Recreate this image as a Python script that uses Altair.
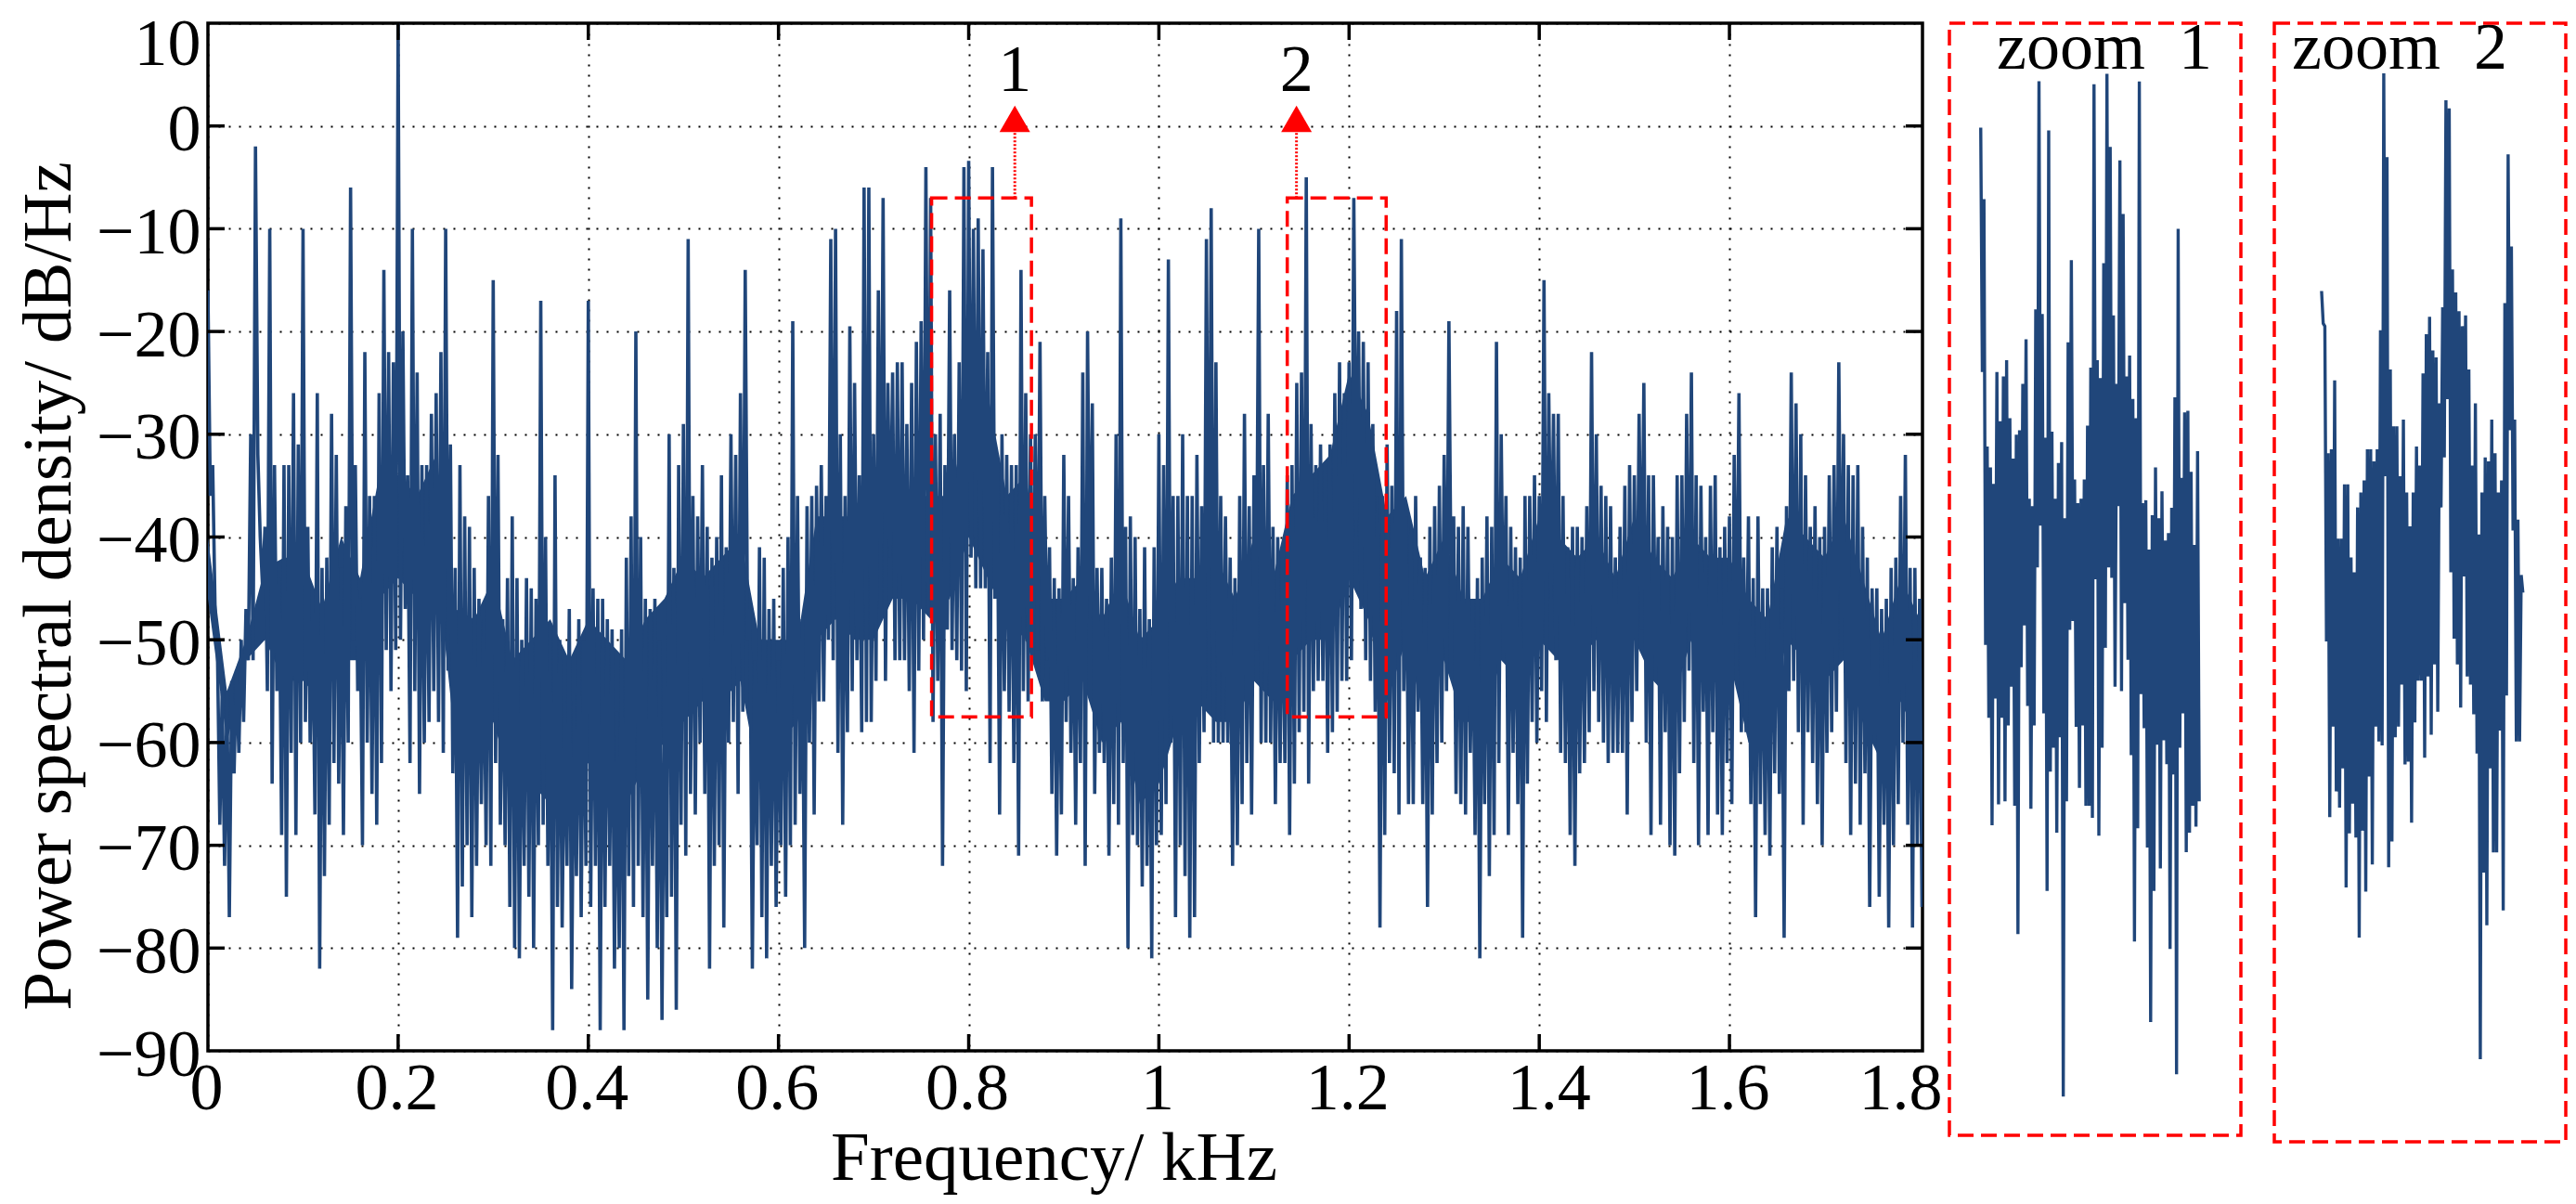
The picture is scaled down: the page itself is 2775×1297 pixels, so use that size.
import altair as alt
import pandas as pd

FONT = "Liberation Serif"
BLUE = "#20467A"
RED = "#FF0000"

upper = [
 -16,-33,-51,-55,-55,-54,-53,-50,-47,-30,-2,-40,-39,-10,-33,-44,-33,-33,-26,-31,
 -10,-39,-46,-26,-43,-42,-28,-32,-43,-37,-6,-33,-46,-22,-36,-36,-26,-14,-22,-23,
 10,-20,-34,-10,-24,-33,-33,-28,-26,-22,-10,-31,-43,-33,-38,-39,-43,-46,-48,-36,
 -15,-32,-48,-44,-38,-44,-50,-44,-45,-46,-17,-40,-49,-34,-50,-56,-47,-56,-48,-50,
 -17,-45,-46,-46,-48,-49,-57,-49,-42,-38,-20,-40,-46,-47,-46,-50,-53,-30,-43,-33,
 -29,-11,-36,-38,-33,-39,-42,-40,-34,-41,-30,-32,-26,-14,-47,-52,-41,-42,-47,-46,
 -52,-43,-40,-19,-36,-48,-37,-36,-35,-33,-36,-11,-10,
 -30,-36,-19.5,-25,-34,-6,-6,-30,-16,-7,-25,-24,-23,-23,-29,-25,-21,-19,-4,-7,
 -30,-28,-33,-16,-30,-23,-4,-3.4,-10,-9,-12,-22,-4,-32,-30,-32,-33,-33,-14,-26,
 -30,-30,-21,-36,-41,-44,-45,-32,-36,-44,-41,-24,-20,-27,-43,-43,-46,-42,-30,-9,
 -39,-38,-40,-47,-41,-48,-41,-30,-33,-13,-36,-36,-30,-36,-36,-32,-37,-11,-8,-23,
 -36,-38,-42,-44,-36,-28,-37,-34,-10,-33,-28,-39,-40,-42,-34,-33,-25,-24,-5,-29,
 -33,-31,-33,-31,-26,-23,-26,-23,-7,-20,-21,-23,-29,-36,-36,-31,-35,-18,-11,-38,
 -39,-36,-42,-43,-39,-37,-35,-32,-19,-38,-39,-37,-39,-46,-44,-42,-38,-39,-21,-30,
 -36,-39,-41,-42,-36,-36,-34,-36,-15,-26,-28,-28,-36,-41,-39,-39,-40,-37,-22,-30,
 -35,-36,-37,-42,-39,-35,-33,-34,-28,-25,-34,-34,-40,-37,-39,-40,-34,-34,-28,-24,
 -34,-35,-40,-35,-34,-41,-39,-38,-32,-26,-42,-38,-44,-38,-45,-45,-41,-39,-45,-37,
 -24,-27,-30,-34,-39,-37,-40,-39,-34,-33,-23,-30,-33,-34,-33,-39,-42,-45,-45,-47,
 -46,-43,-42,-36,-32,-43,-43,-46,
]
lower = [
 -36,-47,-68,-72,-77,-63,-61,-58,-52,-52,-32,-45,-55,-64,-55,-69,-75,-61,-69,-60,
 -58,-60,-67,-82,-73,-68,-62,-64,-69,-60,-50,-55,-70,-60,-65,-68,-62,-51,-55,-51,
 -50,-47,-62,-55,-65,-60,-58,-55,-58,-61,-53,-63,-79,-74,-70,-77,-72,-66,-70,-72,
 -62,-68,-70,-76,-80,-81,-72,-75,-80,-70,-68,-72,-88,-76,-78,-72,-84,-73,-77,-72,
 -76,-72,-88,-76,-72,-82,-80,-88,-73,-76,-72,-77,-85,-72,-80,-87,-77,-75,-86,-68,
 -71,-65,-67,-60,-65,-82,-72,-70,-78,-60,-58,-65,-57,-50,-82,-70,-77,-81,-72,-76,
 -70,-75,-70,-68,-65,-80,-60,-67,-56,-56,-50,-52,-61,
 -68,-59,-55,-52,-59,-58,-58,-54,-47,-54,-42,-52,-52,-52,-55,-61,-53,-50,-47,-58,
 -54,-72,-49,-51,-52,-53,-55,-42,-45,-45,-45,-62,-46,-67,-55,-57,-62,-71,-55,-56,
 -52,-51,-56,-52,-65,-71,-67,-58,-61,-68,-62,-72,-48,-65,-61,-62,-71,-66,-68,-62,
 -80,-69,-70,-74,-72,-81,-70,-69,-66,-60,-77,-70,-73,-79,-77,-62,-59,-55,-60,-60,
 -60,-60,-72,-70,-66,-62,-67,-51,-60,-60,-60,-66,-62,-62,-69,-64,-59,-57,-64,-55,
 -54,-54,-61,-59,-57,-54,-54,-52,-40,-47,-52,-54,-57,-78,-69,-62,-63,-67,-55,-66,
 -66,-57,-66,-76,-67,-62,-60,-55,-48,-65,-66,-67,-61,-69,-81,-66,-73,-69,-62,-52,
 -69,-61,-66,-79,-64,-58,-60,-55,-58,-46,-52,-61,-62,-69,-72,-63,-62,-59,-55,-58,
 -60,-62,-61,-61,-61,-67,-58,-55,-49,-60,-69,-53,-68,-59,-70,-71,-63,-58,-53,-62,
 -70,-57,-69,-59,-67,-69,-62,-66,-53,-59,-59,-66,-77,-66,-69,-71,-63,-65,-79,-55,
 -54,-59,-68,-59,-62,-66,-70,-61,-59,-57,-51,-62,-69,-64,-68,-63,-76,-60,-75,-68,
 -78,-70,-66,-60,-68,-78,-70,-76,
]
# solid core of the trace, one pair per 0.02 kHz
core_top = [
 -40,-55,-50,-43,-42,-42,-47,-40,-44,-34,-34,-36,-32,-47,-48,-44,-52,-50,-48,-52,
 -48,-50,-52,-48,-46,-42,-44,-42,-40,-50,-50,-50,-38,-38,-38,-34,-34,-36,-36,-36,
 -28,-26,-36,-34,-46,-46,-44,-48,-44,-50,-48,-44,-44,-42,-46,-40,-44,-36,-34,-32,
 -24,-28,-38,-36,-44,-40,-46,-46,-42,-44,-38,-40,-42,-40,-44,-38,-42,-44,-40,-42,
 -42,-46,-48,-38,-40,-42,-38,-44,-50,-44,-48,
]
core_bottom = [
 -46,-60,-52,-50,-54,-54,-56,-52,-52,-46,-44,-46,-42,-60,-60,-58,-64,-64,-66,-64,
 -62,-66,-66,-62,-60,-58,-56,-56,-54,-64,-60,-58,-50,-48,-50,-50,-46,-46,-48,-46,
 -40,-44,-48,-50,-56,-56,-54,-60,-58,-66,-64,-58,-56,-58,-58,-54,-56,-52,-50,-50,
 -44,-48,-56,-50,-58,-52,-58,-58,-52,-54,-50,-52,-52,-50,-54,-50,-54,-56,-50,-52,
 -52,-60,-60,-50,-52,-54,-52,-58,-62,-56,-60,
]
zoom1_upper = [
 -7,-11.8,-28.4,-29.8,-30.9,-23.4,-26.7,-23.7,-22.6,-26.5,-29.2,-27.6,-27.3,-24.2,-21.2,-31.9,-32.4,
 -19.2,-3.9,-19.5,-27.8,-7.2,-27.4,-31.9,-29.5,-28.1,-33.2,-21.4,-15.9,-30.6,-32.2,-31.9,-30.6,-27,
 -23.1,-4.1,-22.6,-23.8,-16.1,-3.4,-8.3,-19.6,-24.2,-9.2,-12.8,-23.7,-22.3,-25.2,-26.5,-3.9,-32.2,-32,
 -35.3,-33,-29.8,-33.2,-31.4,-34.7,-34.2,-32.5,-25.1,-13.8,-30.5,-26.1,-26,-30.1,-35,-28.7,
]
zoom1_lower = [
 -23.4,-41.7,-46.6,-53.8,-45.3,-52.4,-46.6,-52.2,-47.1,-44.5,-52.5,-61.1,-43.2,-40.4,-45.8,-52.7,-47.1,
 -36.5,-33.7,-46.3,-58.2,-50.2,-48.6,-54.3,-47.9,-72,-52.2,-40.7,-40.1,-47.2,-51.3,-47.1,-52.5,-52.5,
 -53.3,-37.3,-54.5,-48.6,-41.9,-36.5,-37.2,-44.5,-32.4,-44.8,-38.9,-42.7,-49.1,-61.6,-54,-45,-47.3,-55.3,
 -67,-58.2,-48.4,-56.7,-48.1,-49.7,-62.1,-50.4,-70.5,-48.6,-46.3,-55.6,-54.3,-52.5,-53.9,-52.2,
]
zoom2_upper = [
 -21.1,-23.7,-33.1,-32.8,-27.7,-39.4,-39.4,-35.4,-35.4,-40.8,-41.9,-37.1,-36,-35.1,-32.8,-32.8,-33.7,
 -32.8,-24,-5,-11.2,-26.9,-31.1,-31.1,-34.8,-30.6,-36,-38.5,-36,-32.6,-34,-27.2,-24.3,-23,-25.5,-26,
 -29.4,-22.3,-7,-7.6,-19.5,-21.2,-22.6,-23.7,-22.9,-26.9,-34,-29.4,-39.1,-36,-33.4,-33.7,-30.6,-33.1,
 -36,-35.1,-22,-11,-17.8,-30.6,-38,-42.1,
]
zoom2_lower = [
 -23.5,-47,-60,-53.3,-58.1,-59.3,-56.4,-65.2,-61.2,-59,-61.5,-68.9,-61,-65.5,-57,-63.5,-53.3,-54.4,
 -54.7,-34.8,-63.7,-61.8,-54.1,-53.3,-50.2,-56.1,-55.9,-60.4,-53,-49.9,-49.9,-55.6,-49.6,-53.9,-48.7,
 -52.2,-37.1,-33.4,-29.1,-41.9,-46.8,-48.7,-51.9,-42.2,-49.6,-50.2,-52.4,-55.3,-77.9,-64.1,-68,-56.4,
 -62.6,-62.6,-53.6,-66.9,-51,-31.4,-38.8,-54.4,-54.4,-43.4,
]

x_ticks = [0, 0.2, 0.4, 0.6, 0.8, 1, 1.2, 1.4, 1.6, 1.8]
y_ticks = [10, 0, -10, -20, -30, -40, -50, -60, -70, -80, -90]
inner_x = [0.2, 0.4, 0.6, 0.8, 1, 1.2, 1.4, 1.6]
inner_y = [0, -10, -20, -30, -40, -50, -60, -70, -80]
box_x1 = [0.761, 1.135]
box_x2 = [0.866, 1.239]
box_top = [-7, -7]
box_bottom = [-57.5, -57.5]
arrow_x = [0.8485, 1.1447]
arrow_base = [-7, -7]
arrow_tip = [0, 0]
arrow_head = [0.7, 0.7]
marker_y = [5.4, 5.4]
marker_text = ["1", "2"]


def zigzag(start, step, top, bottom, end):
    rows = []
    for i, (t, b) in enumerate(zip(top, bottom)):
        f = start + i * step
        rows.append({"f": f, "db": t})
        rows.append({"f": min(f + step / 2, end), "db": b})
    return pd.DataFrame(rows)


X_MAX = 1.803
W, H = 1847, 1107
xs = alt.Scale(domain=[0, X_MAX], nice=False, zero=False)
ys = alt.Scale(domain=[-90, 10], nice=False, zero=False)

main_df = zigzag(0, 0.005, upper, lower, X_MAX)
core_df = pd.DataFrame({"f": [i * 0.02 for i in range(len(core_top))], "db": core_top, "db2": core_bottom})

x_axis = alt.Axis(
    values=x_ticks, format=".1~f", title="Frequency/ kHz", grid=True, ticks=False, domain=False,
    labelFont=FONT, labelFontSize=72, labelColor="black", labelPadding=5, labelAngle=0,
    labelFlush=False, labelOverlap=False,
    labelOffset={"condition": [{"test": "datum.value == 1.8", "value": -21},
                               {"test": "datum.value == 1.4", "value": 10}], "value": -2},
    titleFont=FONT, titleFontSize=75, titleFontWeight="normal", titleColor="black",
    titleY=115, titleX=911, titleBaseline="middle",
    gridColor="black", gridWidth=2, gridDash=[2, 9],
    gridOpacity={"condition": {"test": "datum.value == 1.8", "value": 0}, "value": 1},
)
y_axis = alt.Axis(
    values=y_ticks, title="Power spectral density/ dB/Hz", grid=True, ticks=False, domain=False,
    labelFont=FONT, labelFontSize=72, labelColor="black", labelPadding=8,
    labelOffset={"condition": {"test": "datum.value == 10", "value": 22}, "value": 4},
    labelOverlap=False, labelBound=False, labelFlush=False,
    titleFont=FONT, titleFontSize=75, titleFontWeight="normal", titleColor="black",
    titleX=-172, titleY=606, titleBaseline="middle",
    gridColor="black", gridWidth=2, gridDash=[2, 9],
)
X = alt.X("f:Q", scale=xs, axis=x_axis)
Y = alt.Y("db:Q", scale=ys, axis=y_axis)

core = alt.Chart(core_df).mark_area(color=BLUE, opacity=1).encode(x=X, y=Y, y2="db2:Q")
line = alt.Chart(main_df).mark_line(color=BLUE, strokeWidth=3.6, interpolate="linear", clip=True).encode(
    x=X, y=Y, order=alt.Order("idx:Q"),
).transform_window(idx="row_number()")

xt = pd.DataFrame({"f": inner_x})
yt = pd.DataFrame({"db": inner_y})
tick_bottom = alt.Chart(xt).mark_rule(color="black", strokeWidth=3.5).encode(
    x=X, y=alt.value(H), y2=alt.value(H - 18))
tick_top = alt.Chart(xt).mark_rule(color="black", strokeWidth=3.5).encode(
    x=X, y=alt.value(0), y2=alt.value(18))
tick_left = alt.Chart(yt).mark_rule(color="black", strokeWidth=3.5).encode(
    y=Y, x=alt.value(0), x2=alt.value(18))
tick_right = alt.Chart(yt).mark_rule(color="black", strokeWidth=3.5).encode(
    y=Y, x=alt.value(W), x2=alt.value(W - 18))

box_df = pd.DataFrame({"f": box_x1, "f2": box_x2, "db": box_top, "db2": box_bottom})
boxes = alt.Chart(box_df).mark_rect(fillOpacity=0, stroke=RED, strokeWidth=3.5, strokeDash=[17, 8]).encode(
    x=X, x2="f2:Q", y=Y, y2="db2:Q")
arrow_df = pd.DataFrame({"f": arrow_x, "db": arrow_base, "db2": arrow_tip, "head": arrow_head,
                         "lab": marker_y, "text": marker_text})
stems = alt.Chart(arrow_df).mark_rule(color=RED, strokeWidth=3, strokeDash=[2, 2]).encode(
    x=X, y=Y, y2="db2:Q")
heads = alt.Chart(arrow_df).mark_point(shape="triangle-up", filled=True, color=RED, size=1089, opacity=1).encode(
    x=X, y=alt.Y("head:Q", scale=ys, axis=y_axis))
marks = alt.Chart(arrow_df).mark_text(font=FONT, fontSize=72, color="black", baseline="middle", align="center").encode(
    x=X, y=alt.Y("lab:Q", scale=ys, axis=y_axis), text="text:N")

main = alt.layer(core, line, tick_bottom, tick_top, tick_left, tick_right, boxes, stems, heads, marks).properties(
    width=W, height=H, view=alt.ViewConfig(stroke="black", strokeWidth=3.5, fill="white"))


def inset(start, step, top, bottom, x_dom, y_dom, panel_w, box_w, h, label, label_x):
    df = zigzag(start, step, top, bottom, x_dom[1])
    sx = alt.Scale(domain=x_dom, nice=False, zero=False)
    sy = alt.Scale(domain=y_dom, nice=False, zero=False)
    l = alt.Chart(df).mark_line(color=BLUE, strokeWidth=3.4).encode(
        x=alt.X("f:Q", scale=sx, axis=None),
        y=alt.Y("db:Q", scale=sy, axis=None),
        order=alt.Order("idx:Q"),
    ).transform_window(idx="row_number()")
    t = alt.Chart(pd.DataFrame({"text": [label]})).mark_text(
        font=FONT, fontSize=72, color="black", align="center", baseline="middle").encode(
        x=alt.value(label_x), y=alt.value(27), text="text:N")
    r = alt.Chart(pd.DataFrame({"text": [label]})).mark_rect(
        fillOpacity=0, stroke=RED, strokeWidth=3.5, strokeDash=[17, 8]).encode(
        x=alt.value(0), x2=alt.value(box_w), y=alt.value(0), y2=alt.value(h))
    return alt.layer(l, t, r).properties(
        width=panel_w, height=h, view=alt.ViewConfig(stroke=None))


inset1 = inset(0.762, 0.00155, zoom1_upper, zoom1_lower, [0.747, 0.8897], [-74.6, 0], 321, 314, 1198,
               "zoom\u00a0\u00a01", 167)
inset2 = inset(1.135, 0.00171, zoom2_upper, zoom2_lower, [1.1103, 1.2626], [-84, -1.3], 314, 314, 1205,
               "zoom\u00a0\u00a02", 135)

chart = alt.hconcat(main, inset1, inset2, spacing=29, bounds="flush").properties(
    padding={"left": 5, "top": 1, "right": 0, "bottom": 0}, background="white"
)

chart.save("out.html", embed_options={"renderer": "svg", "actions": False})
